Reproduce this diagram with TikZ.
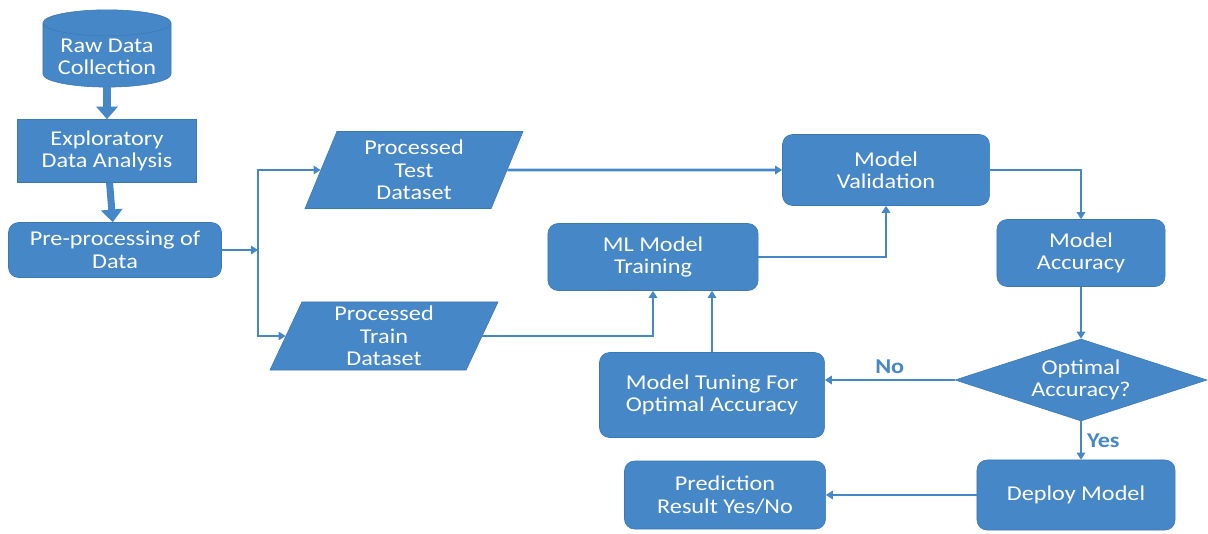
\documentclass[tikz,border=0pt]{standalone}
\usepackage{fontspec}
\setmainfont{Carlito}[FakeStretch=1.15]
\usetikzlibrary{shapes.geometric, arrows.meta, calc}

\definecolor{boxblue}{RGB}{70,135,199}
\definecolor{edgeblue}{RGB}{60,120,182}

\begin{document}
\begin{tikzpicture}[x=0.025cm, y=-0.025cm,
    box/.style={draw=edgeblue, fill=boxblue, text=white, align=center,
      font=\fontsize{15}{16}\selectfont, inner sep=2pt},
    rbox/.style={box, rounded corners=0.25cm},
    data/.style={box, trapezium, trapezium left angle=64,
      trapezium right angle=116, trapezium stretches body},
    link/.style={draw=boxblue, line width=2pt, -{Triangle[length=5pt,width=6pt]}},
    fatlink/.style={draw=boxblue, line width=5pt, -{Triangle[length=9pt,width=15pt]}},
    lbl/.style={text=boxblue, font=\fontsize{15}{16}\selectfont\bfseries}]
  \useasboundingbox (0,0) rectangle (1208,533);
  % left column
  \node[box, cylinder, shape border rotate=90, aspect=0.25,
    minimum width=3.2cm, minimum height=1.88cm] (raw) at (107,57) {Raw Data\\Collection};
  \node[box, minimum width=4.475cm, minimum height=1.575cm] (explore) at (107,151) {Exploratory\\Data Analysis};
  \node[rbox, minimum width=5.325cm, minimum height=1.375cm] (prep) at (115,250) {Pre-processing of\\Data};
  % datasets
  \node[data, minimum width=5.45cm, minimum height=1.925cm] (test) at (414,170) {Processed\\Test\\Dataset};
  \node[data, minimum width=5.7cm, minimum height=1.7cm] (train) at (384,336) {Processed\\Train\\Dataset};
  % model boxes
  \node[rbox, minimum width=5.175cm, minimum height=1.775cm] (val) at (886,170) {Model\\Validation};
  \node[rbox, minimum width=5.25cm, minimum height=1.675cm] (ml) at (653,257) {ML Model\\Training};
  \node[rbox, minimum width=4.2cm, minimum height=1.675cm] (acc) at (1081,253) {Model\\Accuracy};
  \node[box, diamond, aspect=3, inner sep=0pt, minimum width=6.3cm, minimum height=2.05cm] (opt) at (1081,380) {Optimal\\Accuracy?};
  \node[rbox, minimum width=5.625cm, minimum height=2.125cm] (tune) at (712,395) {Model Tuning For\\Optimal Accuracy};
  \node[rbox, minimum width=4.95cm, minimum height=1.75cm] (deploy) at (1076,495) {Deploy Model};
  \node[rbox, minimum width=5.025cm, minimum height=1.7cm] (pred) at (725,495) {Prediction\\Result Yes/No};
  \coordinate (split) at (258,250);
  % thick arrows on the left
  \draw[fatlink] (raw) -- (explore);
  \draw[fatlink] (explore) -- (prep);
  % split into test and train
  \draw[link] (prep.east) -- (split);
  \draw[link] (split) |- (test);
  \draw[link] (split) |- (train);
  % training and validation
  \draw[link] (test) -- (val);
  \draw[link] (train) -| (ml.south);
  \draw[link] (tune.north) -- (tune.north |- ml.south);
  \draw[link] (ml.east) -| (val.south);
  \draw[link] (val.east) -| (acc.north);
  \draw[link] (acc) -- (opt);
  % decision
  \draw[link] (opt.west) -- node[lbl, above] {No} (opt.west -| tune.east);
  \draw[link] (opt.south) -- node[lbl, right] {Yes} (opt.south |- deploy.north);
  \draw[link] (deploy) -- (pred);
\end{tikzpicture}
\end{document}
